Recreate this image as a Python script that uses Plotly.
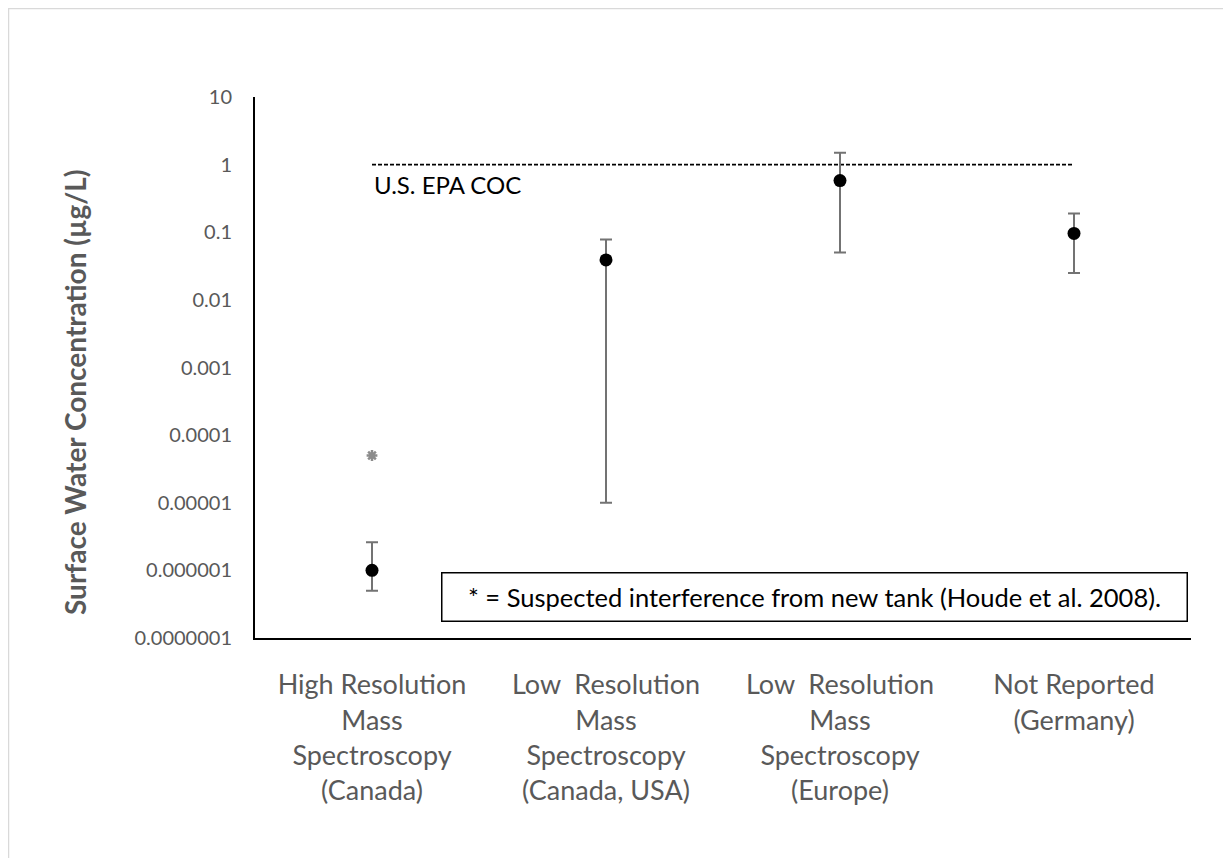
import plotly.graph_objects as go

# ---- data ----
categories = [
    "High Resolution<br>Mass<br>Spectroscopy<br>(Canada)",
    "Low  Resolution<br>Mass<br>Spectroscopy<br>(Canada, USA)",
    "Low  Resolution<br>Mass<br>Spectroscopy<br>(Europe)",
    "Not Reported<br>(Germany)",
]
central_values = [1e-6, 0.039, 0.58, 0.096]
upper_values = [2.6e-6, 0.078, 1.5, 0.19]
lower_values = [5e-7, 1e-5, 0.05, 0.025]

suspect_category = [categories[0]]
suspect_value = [5e-5]

coc_value = 1.0
coc_label = "U.S. EPA COC"

y_tickvals = [1e-7, 1e-6, 1e-5, 1e-4, 1e-3, 1e-2, 1e-1, 1, 10]
y_ticktext = ["0.0000001", "0.000001", "0.00001", "0.0001", "0.001",
              "0.01", "0.1", "1", "10"]

note_text = "* = Suspected interference from new tank (Houde et al. 2008)."
y_title = "Surface Water Concentration (µg/L)"

# ---- figure ----
FONT = "Lato"
GREY = "#595959"

# plot-area geometry in figure pixels
L, T, PW, PH = 247, 89, 936, 541

err_plus = [u - c for u, c in zip(upper_values, central_values)]
err_minus = [c - l for c, l in zip(central_values, lower_values)]

fig = go.Figure()

# EPA COC dashed line
fig.add_trace(go.Scatter(
    x=[categories[0], categories[-1]], y=[coc_value, coc_value],
    mode="lines", line=dict(color="black", width=1.8, dash="4px,2px"),
    showlegend=False, hoverinfo="skip",
))

# points with error bars
fig.add_trace(go.Scatter(
    x=categories, y=central_values, mode="markers",
    marker=dict(color="black", size=13),
    error_y=dict(type="data", symmetric=False, array=err_plus,
                 arrayminus=err_minus, color="#737373", thickness=2, width=6),
    showlegend=False,
))

# suspected value asterisk
fig.add_trace(go.Scatter(
    x=suspect_category, y=suspect_value, mode="markers",
    marker=dict(symbol="asterisk-open", size=9, color="#8c8c8c",
                line=dict(color="#8c8c8c", width=2.5)),
    showlegend=False,
))

def px_x(p):
    return (p - L) / PW

def px_y(p):
    return (T + PH - p) / PH

fig.update_layout(
    width=1231, height=858,
    margin=dict(l=L, r=1231 - L - PW, t=T, b=858 - T - PH),
    paper_bgcolor="white", plot_bgcolor="white",
    font=dict(family=FONT, color=GREY),
    xaxis=dict(
        type="category", range=[-0.5, 3.5],
        categoryorder="array", categoryarray=categories,
        showline=True, linecolor="black", linewidth=2,
        showgrid=False, zeroline=False, ticks="",
        tickfont=dict(family=FONT, size=27, color=GREY),
        ticklabelstandoff=22,
    ),
    yaxis=dict(
        type="log", range=[-7, 1],
        showline=True, linecolor="black", linewidth=2,
        showgrid=False, zeroline=False, ticks="",
        tickvals=y_tickvals, ticktext=y_ticktext,
        tickfont=dict(family=FONT, size=20, color=GREY),
        ticklabelstandoff=17,
    ),
    annotations=[
        dict(text=coc_label, x=categories[0], y=-0.29, xref="x", yref="y",
             xanchor="left", yanchor="middle", showarrow=False,
             font=dict(family=FONT, size=24, color="black")),
        dict(text=note_text, x=px_x(806.5), y=px_y(588.5),
             xref="paper", yref="paper", xanchor="center", yanchor="middle",
             showarrow=False, width=744, height=47, align="center", valign="middle",
             bordercolor="black", borderwidth=1.5, borderpad=0, bgcolor="white",
             font=dict(family=FONT, size=25.5, color="black")),
        dict(text="<b>" + y_title + "</b>", x=px_x(67), y=px_y(384),
             xref="paper", yref="paper", xanchor="center", yanchor="middle",
             textangle=-90, showarrow=False,
             font=dict(family=FONT, size=28, color=GREY)),
    ],
    shapes=[
        dict(type="rect", xref="paper", yref="paper",
             x0=px_x(0.5), x1=1.3, y0=-0.6, y1=px_y(0.5),
             line=dict(color="#d9d9d9", width=1.5), fillcolor="rgba(0,0,0,0)",
             layer="below"),
    ],
)

fig.write_html("out.html")
